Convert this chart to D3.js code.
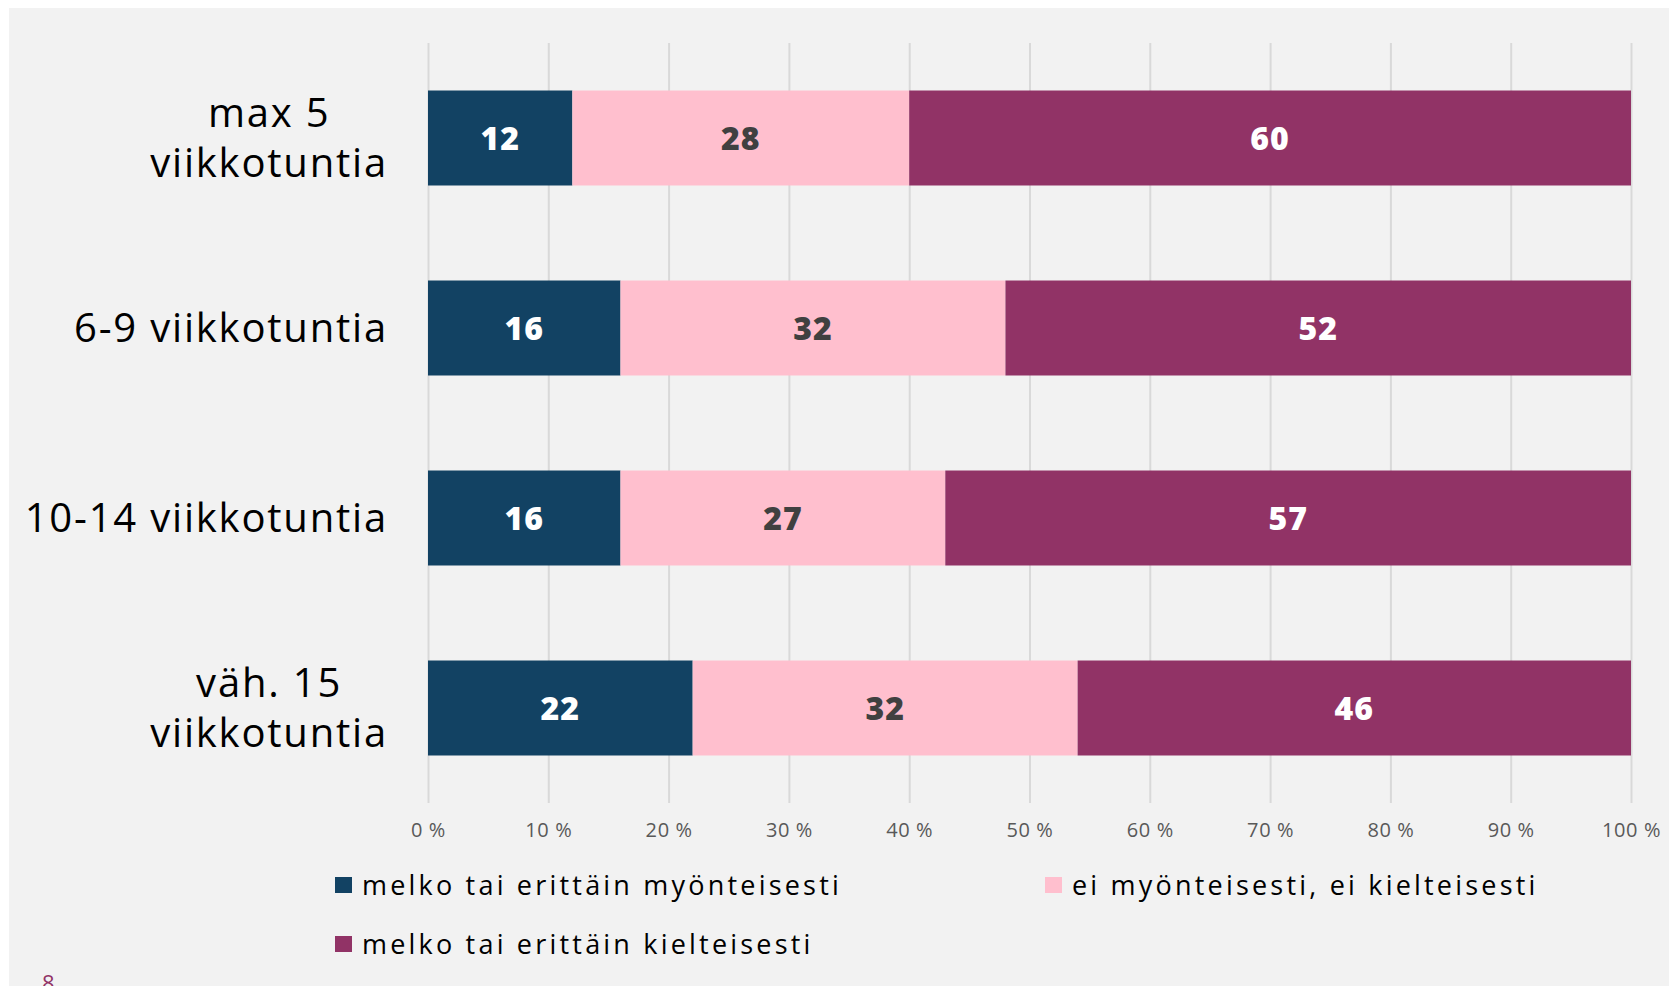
<!DOCTYPE html>
<html>
<head>
<meta charset="utf-8">
<script src="https://cdn.jsdelivr.net/npm/d3@7"></script>
<style>
  body { margin: 0; background: #fff; }
  svg { display: block; }
</style>
</head>
<body>
<svg id="chart"></svg>
<script>
// data
const categories = ['max 5 viikkotuntia', '6-9 viikkotuntia', '10-14 viikkotuntia', 'väh. 15 viikkotuntia'];
const categoryLines = [['max 5', 'viikkotuntia'], ['6-9 viikkotuntia'], ['10-14 viikkotuntia'], ['väh. 15', 'viikkotuntia']];
const seriesNames = ['melko tai erittäin myönteisesti', 'ei myönteisesti, ei kielteisesti', 'melko tai erittäin kielteisesti'];
const positive = [12, 16, 16, 22];
const neutral = [28, 32, 27, 32];
const negative = [60, 52, 57, 46];
const tickValues = [0, 10, 20, 30, 40, 50, 60, 70, 80, 90, 100];

const colors = ['#124263', '#FFBFCE', '#913366'];
const labelColors = ['#ffffff', '#404040', '#ffffff'];
const font = '"Open Sans", sans-serif';

const W = 1670, H = 986;
const svg = d3.select('#chart').attr('width', W).attr('height', H);

// grey panel
svg.append('rect')
  .attr('x', 9).attr('y', 8)
  .attr('width', 1660).attr('height', 978)
  .attr('fill', '#F2F2F2');

const plotTop = 43, plotBottom = 803;

const x = d3.scaleLinear().domain([0, 100]).range([428, 1631]);
const y = d3.scaleBand().domain(categories).range([plotTop, plotBottom])
  .paddingInner(0.5).paddingOuter(0.25);

// gridlines + tick labels
const xAxis = d3.axisBottom(x)
  .tickValues(tickValues)
  .tickSize(-(plotBottom - plotTop))
  .tickFormat(d => d + ' %');

const axisG = svg.append('g')
  .attr('transform', `translate(0,${plotBottom})`)
  .call(xAxis);
axisG.select('.domain').remove();
axisG.selectAll('.tick line').attr('stroke', '#D9D9D9').attr('stroke-width', 2);
axisG.selectAll('.tick text')
  .attr('y', 27).attr('dy', '0.35em')
  .attr('fill', '#595959')
  .style('font-family', font)
  .style('font-size', '20px')
  .style('letter-spacing', '0.6px');

// stacked bars
const rows = categories.map((c, i) => ({ cat: c, v0: positive[i], v1: neutral[i], v2: negative[i] }));
const stack = d3.stack().keys(['v0', 'v1', 'v2'])(rows);

stack.forEach((layer, k) => {
  const g = svg.append('g');
  g.selectAll('rect')
    .data(layer)
    .enter()
    .append('rect')
    .attr('x', d => x(d[0]))
    .attr('y', d => y(d.data.cat))
    .attr('width', d => x(d[1]) - x(d[0]))
    .attr('height', y.bandwidth())
    .attr('fill', colors[k]);

  g.selectAll('text')
    .data(layer)
    .enter()
    .append('text')
    .attr('x', d => (x(d[0]) + x(d[1])) / 2)
    .attr('y', d => y(d.data.cat) + y.bandwidth() / 2)
    .attr('dy', '0.36em')
    .attr('text-anchor', 'middle')
    .attr('fill', labelColors[k])
    .style('font-family', font)
    .style('font-weight', 800)
    .style('font-size', '32px')
    .style('letter-spacing', '1px')
    .text(d => d[1] - d[0]);
});

// category labels (right-aligned block, lines centred)
const labelRight = 388, lineH = 50;
categories.forEach((c, i) => {
  const lines = categoryLines[i];
  const g = svg.append('g');
  const texts = lines.map(l => g.append('text')
    .style('font-family', font)
    .style('font-size', '40px')
    .style('letter-spacing', '1.8px')
    .attr('fill', '#000')
    .attr('text-anchor', 'middle')
    .text(l));
  const maxW = d3.max(texts, t => t.node().getComputedTextLength());
  const cy = y(c) + y.bandwidth() / 2;
  texts.forEach((t, j) => {
    t.attr('x', labelRight - maxW / 2)
      .attr('y', cy + (j - (lines.length - 1) / 2) * lineH)
      .attr('dy', '0.36em');
  });
});

// legend
const legendPos = [[335, 885], [1045, 885], [335, 944]];
seriesNames.forEach((name, k) => {
  const [lx, ly] = legendPos[k];
  svg.append('rect')
    .attr('x', lx).attr('y', ly - 8)
    .attr('width', 17).attr('height', 16)
    .attr('fill', colors[k]);
  svg.append('text')
    .attr('x', lx + 27).attr('y', ly)
    .attr('dy', '0.36em')
    .attr('fill', '#000')
    .style('font-family', font)
    .style('font-size', '27px')
    .style('letter-spacing', '3.2px')
    .text(name);
});

// page number (cut by the bottom edge, as in the original)
svg.append('text')
  .attr('x', 42).attr('y', 991)
  .attr('fill', '#913366')
  .style('font-family', font)
  .style('font-size', '22px')
  .text('8');
</script>
</body>
</html>
